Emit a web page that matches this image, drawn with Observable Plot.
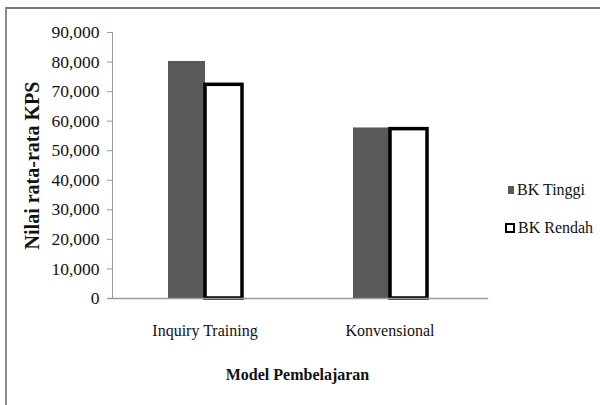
<!DOCTYPE html>
<html>
<head>
<meta charset="utf-8">
<script src="https://cdn.jsdelivr.net/npm/d3@7"></script>
<script src="https://cdn.jsdelivr.net/npm/@observablehq/plot@0.6"></script>
<style>
  html, body { margin: 0; padding: 0; background: #fff; }
  #wrap { position: relative; width: 600px; height: 405px; overflow: hidden; font-family: "Liberation Serif", "Times New Roman", serif; }
  #border { position: absolute; left: 5px; top: 7px; width: 620px; height: 420px; border-top: 2px solid #7c7c7c; border-left: 2px solid #8c8c8c; pointer-events: none; }
  #chart svg { display: block; }
  g[aria-label="fx-axis label"] text { font-weight: bold; }
  g[aria-label="y-axis label"] text { font-weight: bold; font-size: 20px; }
  #legend { position: absolute; left: 505px; top: 179px; font-size: 16px; color: #111; }
  .item { display: flex; align-items: center; height: 22px; margin-bottom: 16px; white-space: nowrap; }
  .sw { display: inline-block; box-sizing: border-box; margin-right: 3px; }
</style>
</head>
<body>
<div id="wrap">
  <div id="chart"></div>
  <div id="legend"></div>
  <div id="border"></div>
</div>
<script>
const categories = ["Inquiry Training", "Konvensional"];
const series = ["BK Tinggi", "BK Rendah"];
const bkTinggi = [80200, 57700];
const bkRendah = [72300, 57300];
const yTicks = [0, 10000, 20000, 30000, 40000, 50000, 60000, 70000, 80000, 90000];

const data = [];
categories.forEach((c, i) => {
  data.push({category: c, series: series[0], value: bkTinggi[i]});
  data.push({category: c, series: series[1], value: bkRendah[i]});
});

const plot = Plot.plot({
  width: 600,
  height: 405,
  marginLeft: 112,
  marginRight: 118,
  marginTop: 32,
  marginBottom: 107,
  style: {fontFamily: "'Liberation Serif', 'Times New Roman', serif", fontSize: "16px", color: "#111", background: "white"},
  fx: {domain: categories, paddingInner: 0, paddingOuter: 0, label: "Model Pembelajaran"},
  x: {domain: series, paddingInner: 0, paddingOuter: 1.5, axis: null},
  y: {domain: [0, 90000], ticks: yTicks},
  marks: [
    Plot.axisFx({anchor: "bottom", tickSize: 0, tickPadding: 26, fontSize: 16, label: "Model Pembelajaran", labelAnchor: "center", labelOffset: 81, labelArrow: "none"}),
    Plot.axisY({ticks: yTicks, tickFormat: d3.format(","), tickSize: 5, tickPadding: 8, stroke: "#999", label: "Nilai rata-rata KPS", labelAnchor: "center", labelOffset: 88, labelArrow: "none", fontSize: 17.5}),
    Plot.barY(data.filter(d => d.series === series[0]), {fx: "category", x: "series", y: "value", fill: "#595959"}),
    Plot.barY(data.filter(d => d.series === series[1]), {fx: "category", x: "series", y: "value", fill: "white", stroke: "black", strokeWidth: 3.5}),
    Plot.frame({anchor: "bottom", stroke: "#999", strokeWidth: 1.5, insetLeft: -4, insetRight: -5, facet: "super"}),
    Plot.frame({anchor: "left", stroke: "#999", facet: "super"})
  ]
});
document.getElementById("chart").appendChild(plot);

const legend = document.getElementById("legend");
series.forEach((s, i) => {
  const item = document.createElement("div");
  item.className = "item";
  const sw = document.createElement("span");
  sw.className = "sw";
  if (i === 0) {
    sw.style.cssText = "width:6px;height:8px;background:#595959;margin-left:3px;";
  } else {
    sw.style.cssText = "width:10px;height:10px;background:#fff;border:2.5px solid #000;";
  }
  const t = document.createElement("span");
  t.textContent = s;
  item.appendChild(sw);
  item.appendChild(t);
  legend.appendChild(item);
});
</script>
</body>
</html>
